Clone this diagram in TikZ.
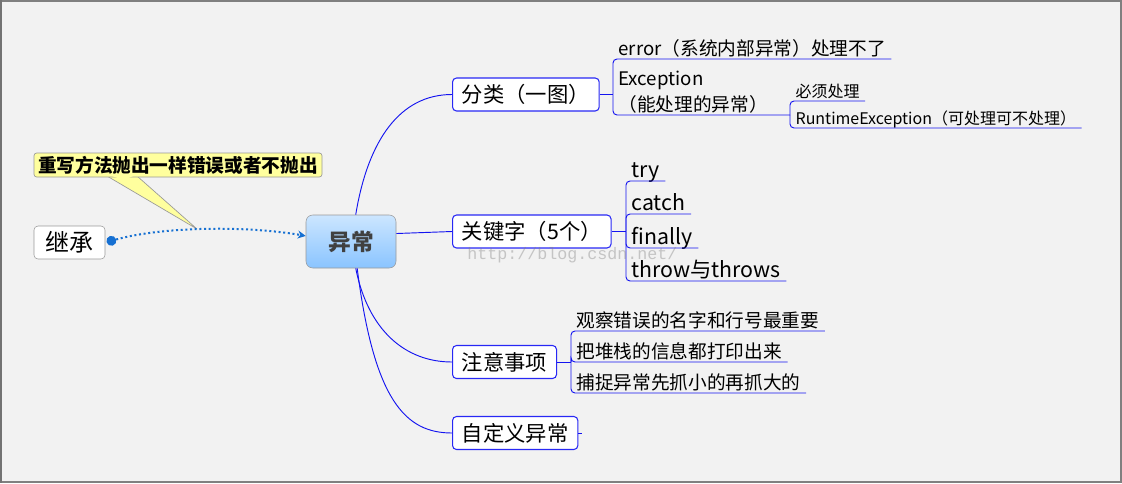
\documentclass[tikz,border=0pt]{standalone}
\usepackage{fontspec}
\newfontfamily\cjk{Noto Sans CJK SC}
\newfontfamily\wmfont{Liberation Mono}
\usetikzlibrary{arrows.meta}
\definecolor{bgcol}{RGB}{242,242,242}
\definecolor{topicblue}{RGB}{40,40,245}
\definecolor{branchblue}{RGB}{20,20,240}
\definecolor{centtop}{RGB}{204,230,255}
\definecolor{centbot}{RGB}{138,196,255}
\definecolor{calloutfill}{RGB}{255,255,158}
\definecolor{inhblue}{RGB}{22,112,210}
\begin{document}
\begin{tikzpicture}[x=0.75pt,y=-0.75pt,
  topic/.style={draw=topicblue,fill=white,rounded corners=3pt,line width=0.8pt,minimum height=24.75pt,inner xsep=7pt,anchor=west,font=\cjk\fontsize{16}{19}\selectfont},
  leaf/.style={anchor=south west,inner xsep=4pt,inner ysep=0.5pt,text depth=.22em,font=\cjk\fontsize{14}{19}\selectfont},
  kwleaf/.style={leaf,font=\cjk\fontsize{16}{19}\selectfont},
  smallleaf/.style={leaf,font=\cjk\fontsize{12}{15}\selectfont},
  branch/.style={draw=branchblue,line width=0.7pt},
  sub/.style={draw=branchblue,line width=0.7pt,rounded corners=3pt}]
\useasboundingbox (0,0) rectangle (1122,483);
\fill[bgcol] (0,0) rectangle (1122,483);
\draw[gray,line width=1.2pt] (0.8,0.8) rectangle (1121.2,482.2);
\draw[gray!90!black,line width=1.5pt] (1,0) -- (1,483);

\node[draw=gray!80,rounded corners=5pt,top color=centtop,bottom color=centbot,minimum width=67.5pt,minimum height=39.75pt,text=black!75,font=\cjk\bfseries\fontsize{17}{20}\selectfont] (cent) at (351,241.5) {异常};

\node[draw=gray!80,fill=white,rounded corners=3pt,minimum width=53.25pt,minimum height=24.75pt,inner sep=0pt,font=\cjk\fontsize{18}{20}\selectfont] (jc) at (69.5,242.5) {继承};

\coordinate (tip) at (197,229);
\filldraw[fill=calloutfill,draw=gray!80,line width=0.5pt] (107,176) -- (tip) -- (137,176);
\node[fill=calloutfill,draw=gray!80,rounded corners=2pt,line width=0.5pt,minimum width=216pt,minimum height=18pt,inner sep=0pt,font=\cjk\bfseries\fontsize{14}{16}\selectfont] (note) at (178,165) {重写方法抛出一样错误或者不抛出};
\fill[calloutfill] (108.5,175) -- (135.5,175) -- (124,180) -- cycle;

\draw[inhblue,line width=1.5pt,dotted,{Circle[length=7.5pt,line width=0pt,sep=0pt]}-{Stealth[length=6pt,width=6pt]},shorten <=1pt] (jc.east) .. controls (165,226) and (250,226) .. (cent.173);

\node[topic] (fenlei) at (452,94.5) {分类（一图）};
\node[topic] (gjz) at (452,231.5) {关键字（5个）};
\node[topic] (zysx) at (452,362) {注意事项};
\node[topic] (zdy) at (452,433) {自定义异常};

\draw[branch] (cent.80) .. controls (368,140) and (400,94.5) .. (fenlei.west);
\draw[branch] (cent.10) -- (gjz.west);
\draw[branch] (cent.-80) .. controls (368,330) and (405,362) .. (zysx.west);
\draw[branch] (cent.-77) .. controls (374,400) and (405,433) .. (zdy.west);
\draw[branch] (zdy.east) -- ++(4,0);

\node[leaf] (err) at (613,59) {error（系统内部异常）处理不了};
\node[leaf,align=left] (exc) at (613,115) {Exception\\（能处理的异常）};
\node[smallleaf] (must) at (790,101) {必须处理};
\node[smallleaf] (rt) at (790,128) {RuntimeException（可处理可不处理）};
\coordinate (fl) at (613,94.5);
\coordinate (exj) at (790,115);
\draw[branch] (fenlei.east) -- (fl);
\draw[sub] (fl) |- (err.south east);
\draw[sub] (fl) |- (exj);
\draw[sub] (exj) |- (must.south east);
\draw[sub] (exj) |- (rt.south east);

\node[kwleaf] (try) at (626,181) {try};
\node[kwleaf] (catch) at (626,214) {catch};
\node[kwleaf] (fin) at (626,248) {finally};
\node[kwleaf] (thr) at (626,281) {throw与throws};
\coordinate (kw) at (626,231.5);
\draw[branch] (gjz.east) -- (kw);
\foreach \k in {try,catch,fin,thr}
  \draw[sub] (kw) |- (\k.south east);

\node[leaf] (gc) at (571,331) {观察错误的名字和行号最重要};
\node[leaf] (dz) at (571,362) {把堆栈的信息都打印出来};
\node[leaf] (bz) at (571,393) {捕捉异常先抓小的再抓大的};
\coordinate (zy) at (571,362);
\draw[branch] (zysx.east) -- (zy);
\foreach \k in {gc,dz,bz}
  \draw[sub] (zy) |- (\k.south east);

\node[anchor=west,inner sep=0pt,text=gray,opacity=0.4,font=\wmfont\fontsize{12.5}{12.5}\selectfont] (wm) at (467,255) {http://blog.csdn.net/};
\end{tikzpicture}
\end{document}
